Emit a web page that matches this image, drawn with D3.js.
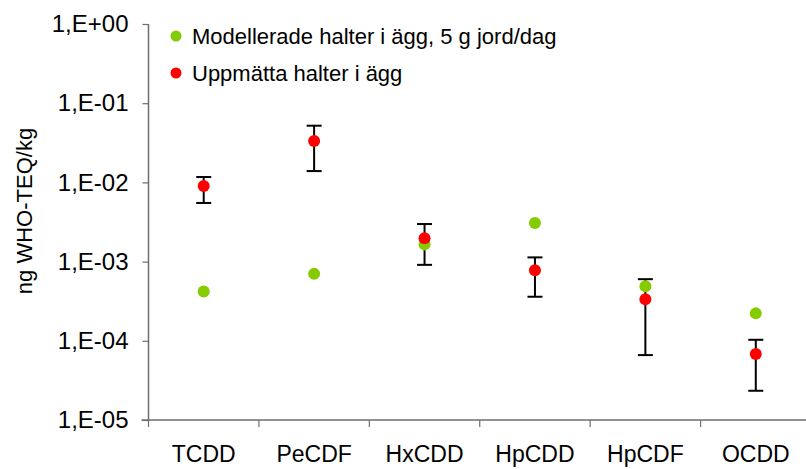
<!DOCTYPE html>
<html>
<head>
<meta charset="utf-8">
<script src="https://cdn.jsdelivr.net/npm/d3@7"></script>
<style>
  body { margin: 0; background: #fff; }
  svg { display: block; font-family: "Liberation Sans", Arial, sans-serif; }
</style>
</head>
<body>
<div id="chart"></div>
<script>
// data
var categories = ['TCDD', 'PeCDF', 'HxCDD', 'HpCDD', 'HpCDF', 'OCDD'];
var modelled = [4.2e-4, 7.0e-4, 1.65e-3, 3.07e-3, 4.9e-4, 2.22e-4];
var measured = [9.0e-3, 3.33e-2, 1.97e-3, 7.8e-4, 3.34e-4, 6.8e-5];
var errHigh = [1.17e-2, 5.2e-2, 2.98e-3, 1.13e-3, 6.0e-4, 1.03e-4];
var errLow = [5.5e-3, 1.39e-2, 9.1e-4, 3.6e-4, 6.6e-5, 2.34e-5];
var yTicks = [1e-5, 1e-4, 1e-3, 1e-2, 1e-1, 1];
var legendLabels = ['Modellerade halter i ägg, 5 g jord/dag', 'Uppmätta halter i ägg'];

var width = 806,
  height = 469;

var green = '#84cc00', red = '#ff0000', axisColor = '#6e6e6e';

var svg = d3.select('#chart').append('svg')
    .attr('width', width)
    .attr('height', height);

var plotLeft = 148.5, plotRight = 811, plotTop = 24, plotBottom = 420;

var x = d3.scaleBand()
    .domain(categories)
    .range([plotLeft, plotRight]);

var y = d3.scaleLog()
    .domain([1e-5, 1])
    .range([plotBottom, plotTop]);

function fmt(v) {
  var e = Math.round(Math.log10(v));
  var s = e < 0 ? '-' : '+';
  var a = Math.abs(e);
  return '1,E' + s + (a < 10 ? '0' : '') + a;
}

// y axis
var yAxis = svg.append('g')
    .attr('transform', 'translate(' + plotLeft + ',0)')
    .call(d3.axisLeft(y).tickValues(yTicks).tickFormat(fmt).tickSize(6).tickPadding(14));
yAxis.select('.domain').attr('d', 'M0,' + plotTop + 'V' + plotBottom).attr('stroke', axisColor).attr('stroke-width', 1.5);
yAxis.selectAll('.tick line').attr('stroke', axisColor).attr('stroke-width', 1.2);
yAxis.selectAll('text').attr('fill', '#000').style('font-size', '24px');

// x axis: labels centred in band, ticks at band boundaries
var xAxis = svg.append('g')
    .attr('transform', 'translate(0,' + plotBottom + ')')
    .call(d3.axisBottom(x).tickSize(0).tickPadding(26));
xAxis.select('.domain').attr('d', 'M' + (plotLeft - 7) + ',0H' + width).attr('stroke', axisColor).attr('stroke-width', 1.5);
xAxis.selectAll('text').attr('fill', '#000').style('font-size', '23px');

xAxis.selectAll('.bound')
  .data(d3.range(categories.length))
  .enter().append('line')
  .attr('class', 'bound')
  .attr('x1', function(i) { return plotLeft + i * x.step(); })
  .attr('x2', function(i) { return plotLeft + i * x.step(); })
  .attr('y1', 0)
  .attr('y2', 7)
  .attr('stroke', axisColor)
  .attr('stroke-width', 1.2);

// y axis title
svg.append('text')
    .attr('transform', 'translate(32,211) rotate(-90)')
    .attr('text-anchor', 'middle')
    .style('font-size', '22px')
    .text('ng WHO-TEQ/kg');

var cx = function(d, i) { return x(categories[i]) + x.bandwidth() / 2; };

// error bars
var err = svg.append('g').attr('stroke', '#000').attr('stroke-width', 2);
categories.forEach(function(c, i) {
  var xc = x(c) + x.bandwidth() / 2;
  err.append('line').attr('x1', xc).attr('x2', xc).attr('y1', y(errHigh[i])).attr('y2', y(errLow[i]));
  err.append('line').attr('x1', xc - 7.5).attr('x2', xc + 7.5).attr('y1', y(errHigh[i])).attr('y2', y(errHigh[i]));
  err.append('line').attr('x1', xc - 7.5).attr('x2', xc + 7.5).attr('y1', y(errLow[i])).attr('y2', y(errLow[i]));
});

// points
svg.append('g').selectAll('circle')
  .data(modelled)
  .enter().append('circle')
  .attr('cx', cx)
  .attr('cy', function(d) { return y(d); })
  .attr('r', 6)
  .attr('fill', green);

svg.append('g').selectAll('circle')
  .data(measured)
  .enter().append('circle')
  .attr('cx', cx)
  .attr('cy', function(d) { return y(d); })
  .attr('r', 6)
  .attr('fill', red);

// legend
var legend = svg.append('g');
legendLabels.forEach(function(t, i) {
  var ly = 36 + i * 37;
  legend.append('circle').attr('cx', 176).attr('cy', ly).attr('r', 5.5).attr('fill', i === 0 ? green : red);
  legend.append('text').attr('x', 192).attr('y', ly + 8).style('font-size', '22px').text(t);
});
</script>
</body>
</html>
